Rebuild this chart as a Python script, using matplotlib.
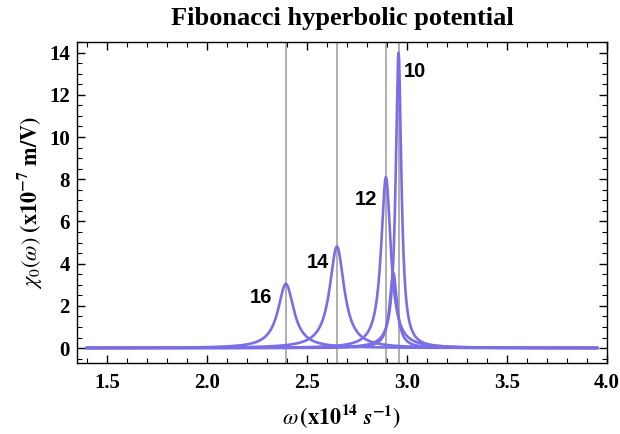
import numpy as np
import matplotlib
matplotlib.use("Agg")
import matplotlib.pyplot as plt
from matplotlib.ticker import MultipleLocator

plt.rcParams["mathtext.fontset"] = "stix"
plt.rcParams["font.family"] = ["Liberation Serif", "DejaVu Serif"]

# Resonances of the second-order susceptibility for each structure size
labels = ["16", "14", "12", "10", ""]
centers = [2.395, 2.650, 2.895, 2.958, 2.932]   # x10^14 s^-1
heights = [3.04, 4.81, 8.10, 14.0, 3.55]        # x10^-7 m/V
widths = [0.048, 0.044, 0.029, 0.017, 0.022]     # half width at half maximum
marker_lines = [2.395, 2.650, 2.895, 2.958]
label_pos_x = [2.27, 2.553, 2.793, 3.04]
label_pos_y = [2.40, 4.05, 7.05, 13.1]

omega = np.linspace(1.40, 3.95, 3000)

fig = plt.figure(figsize=(6.2, 4.34), dpi=100)
ax = fig.add_axes([0.124, 0.164, 0.855, 0.739])

curve_color = "#7a6ee6"
for xv in marker_lines:
    ax.axvline(xv, color="#9a9a9a", lw=1.1, zorder=1)

for c, h, w in zip(centers, heights, widths):
    chi = h * w**2 / ((omega - c) ** 2 + w**2)
    ax.plot(omega, chi, color=curve_color, lw=1.9, zorder=2)

for lab, lx, ly in zip(labels, label_pos_x, label_pos_y):
    if lab:
        ax.text(lx, ly, lab, ha="center", va="center", fontsize=14.5,
                fontweight="bold", family="Liberation Sans", zorder=3)

ax.set_xlim(1.35, 4.0)
ax.set_ylim(-0.7, 14.5)
ax.xaxis.set_major_locator(MultipleLocator(0.5))
ax.xaxis.set_minor_locator(MultipleLocator(0.1))
ax.yaxis.set_major_locator(MultipleLocator(2))
ax.yaxis.set_minor_locator(MultipleLocator(0.5))
ax.xaxis.set_major_formatter(plt.FormatStrFormatter("%.1f"))
ax.tick_params(which="both", direction="in", top=True, right=True,
               labeltop=False, labelright=False)
ax.tick_params(which="major", length=6, width=1.0)
ax.tick_params(which="minor", length=3.5, width=0.8)
for lbl in ax.get_xticklabels() + ax.get_yticklabels():
    lbl.set_fontweight("bold")
    lbl.set_fontsize(15)
ax.tick_params(axis="x", pad=7)
ax.tick_params(axis="y", pad=5)
for sp in ax.spines.values():
    sp.set_linewidth(1.0)

ax.set_title("Fibonacci hyperbolic potential", fontsize=19,
             fontweight="bold", pad=12)
ax.set_xlabel(r"$\omega\,\mathbf{(x10^{14}}\ \boldsymbol{s}^{\mathbf{-1}}\mathbf{)}$",
              fontsize=16, labelpad=7)
ax.set_ylabel(r"$\chi_0(\omega)\ \mathbf{(x10^{-7}\ m/V)}$", fontsize=16,
              labelpad=4)

fig.savefig("out.png", dpi=100)
